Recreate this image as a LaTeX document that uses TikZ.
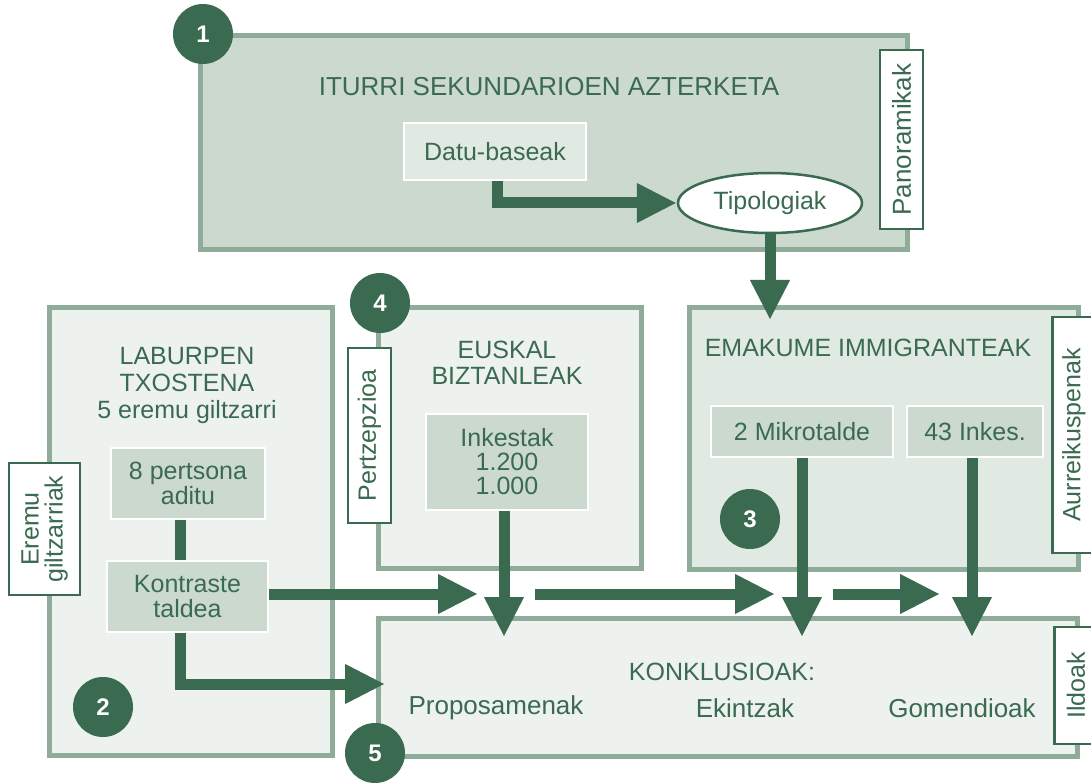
\documentclass[tikz,border=0pt]{standalone}
\usepackage{fontspec}
\setmainfont{Liberation Sans}
\usetikzlibrary{arrows.meta,shapes.geometric}
\definecolor{dg}{RGB}{58,106,80}
\definecolor{bord}{RGB}{143,171,153}
\definecolor{fa}{RGB}{203,217,207}
\definecolor{fb}{RGB}{238,242,239}
\definecolor{fc}{RGB}{225,233,227}
\begin{document}
\begin{tikzpicture}[x=1pt,y=-1pt,
 every node/.style={font=\fontsize{25}{27}\selectfont, text=dg, inner sep=0pt},
 panel/.style={draw=bord, line width=5pt, anchor=north west},
 inbox/.style={draw=white, line width=2.5pt, fill=fa, align=center},
 tagbox/.style={draw=dg, line width=2.5pt, fill=white, rotate=90, align=center, minimum height=43pt},
 num/.style={circle, fill=dg, minimum size=60pt, text=white, font=\fontsize{24}{24}\selectfont\bfseries},
 arr/.style={draw=dg, line width=11pt, -{Triangle[length=40pt,width=37pt]}},
 lnk/.style={draw=dg, line width=11pt},
]
\useasboundingbox (0,0) rectangle (1091,783);

% panels
\node[panel, fill=fa, minimum width=707pt, minimum height=214pt] (b1) at (198,33) {};
\node[panel, fill=fb, minimum width=283pt, minimum height=448pt] (b2) at (47,305) {};
\node[panel, fill=fb, minimum width=263pt, minimum height=261pt] (b4) at (376,305) {};
\node[panel, fill=fc, minimum width=389pt, minimum height=262pt] (b3) at (687,305) {};
\node[panel, fill=fb, minimum width=699pt, minimum height=138pt] (b5) at (376,616) {};

% titles
\node (t1) at (549,87) {\fontsize{26}{28}\selectfont ITURRI SEKUNDARIOEN AZTERKETA};
\node[align=center] (t2) at (187,385) {LABURPEN\\TXOSTENA\\5 eremu giltzarri};
\node[align=center, font=\fontsize{25}{26}\selectfont] (t4) at (507,363) {EUSKAL\\BIZTANLEAK};
\node (t3) at (868,348) {EMAKUME IMMIGRANTEAK};
\node (t5) at (722,672) {KONKLUSIOAK:};
\node (p1) at (496,708) {\fontsize{26}{27}\selectfont Proposamenak};
\node (p2) at (745,708) {\fontsize{26}{27}\selectfont Ekintzak};
\node (p3) at (962,708) {\fontsize{26}{27}\selectfont Gomendioak};

% inner boxes
\node[inbox, fill=fc, minimum width=182pt, minimum height=57pt] (datu) at (495,151.5) {Datu-baseak};
\node[ellipse, draw=dg, line width=2.5pt, fill=white, minimum width=184pt, minimum height=60pt] (tipo) at (770,203) {Tipologiak};
\node[inbox, minimum width=154pt, minimum height=71pt, font=\fontsize{25}{25}\selectfont] (p8) at (188,483.5) {8 pertsona\\aditu};
\node[inbox, minimum width=161pt, minimum height=71pt, font=\fontsize{25}{25}\selectfont] (kon) at (187.5,596.5) {Kontraste\\taldea};
\node[inbox, minimum width=162pt, minimum height=96pt, font=\fontsize{25}{24}\selectfont] (ink) at (507,462) {Inkestak\\1.200\\1.000};
\node[inbox, minimum width=182pt, minimum height=51pt] (mik) at (802,431.5) {2 Mikrotalde};
\node[inbox, minimum width=136pt, minimum height=51pt] (i43) at (975,431.5) {43 Inkes.};

% side tags
\node[tagbox, minimum width=132pt, minimum height=71pt, font=\fontsize{25}{24}\selectfont] (g1) at (44.5,529) {Eremu\\giltzarriak};
\node[tagbox, minimum width=179pt, font=\fontsize{26}{26}\selectfont] (g2) at (901.5,139.5) {Panoramikak};
\node[tagbox, minimum width=175pt] (g3) at (369.5,435.5) {Pertzepzioa};
\node[tagbox, minimum width=236pt] (g4) at (1074,435) {Aurreikuspenak};
\node[tagbox, minimum width=117pt] (g5) at (1076,685.5) {Ildoak};

% free ends
\coordinate (e3) at (770,320);
\coordinate (a1) at (478,594);
\coordinate (a2s) at (535,594);
\coordinate (a2) at (775,594);
\coordinate (a3s) at (833,594);
\coordinate (a3) at (940,594);
\coordinate (c5) at (385,684);
\coordinate (d1) at (504,637);
\coordinate (d2) at (802,637);
\coordinate (d3) at (972,637);

% connectors
\draw[arr] ([xshift=2pt]datu.south) |- (tipo.west);
\draw[arr] (tipo.south) -- (e3);
\draw[lnk] ([xshift=-8pt]p8.south) -- ([xshift=-7.5pt]kon.north);
\draw[arr] (kon.east |- a1) -- (a1);
\draw[arr] ([xshift=-7.5pt]kon.south) |- (c5);
\draw[arr] (a2s) -- (a2);
\draw[arr] (a3s) -- (a3);
\draw[arr] ([xshift=-3pt]ink.south) -- (d1);
\draw[arr] (mik.south) -- (d2);
\draw[arr] ([xshift=-3pt]i43.south) -- (d3);

% numbers
\node[num] (n1) at (203,34) {1};
\node[num] (n2) at (103,707) {2};
\node[num] (n3) at (750,519) {3};
\node[num] (n4) at (380,303) {4};
\node[num] (n5) at (375,753) {5};
\end{tikzpicture}
\end{document}
